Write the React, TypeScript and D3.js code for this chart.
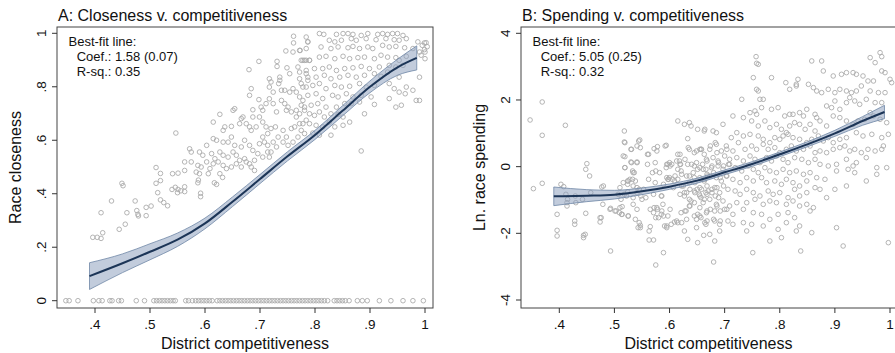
import React, { useEffect, useRef } from "react";
import * as d3 from "d3";

const W = 895;
const H = 353;

const xTicks = [0.4, 0.5, 0.6, 0.7, 0.8, 0.9, 1];
const yTicksA = [0, 0.2, 0.4, 0.6, 0.8, 1];
const yTicksB = [-4, -2, 0, 2, 4];

// districts with zero closeness (bottom row of panel A)
const zeroRowA = [.347, .353, .369, .397, .407, .413, .427, .431, .443, .448, .475, .49, .507, .512, .517, .522, .527, .532,
  .537, .542, .546, .565, .57, .577, .583, .588, .593, .598, .603, .608, .613, .622, .627, .632, .637, .642, .647, .652,
  .657, .662, .667, .672, .677, .682, .687, .692, .697, .702, .707, .712, .717, .722, .727, .732, .737, .742, .747, .752,
  .757, .762, .767, .772, .777, .782, .787, .792, .797, .802, .807, .812, .817, .823, .835, .84, .845, .85, .855, .862,
  .877, .886, .895, .917, .938, .96, .978, .997];

// closeness v. competitiveness
const cloudA = [
  [.411, .329], [.396, .237], [.404, .237], [.411, .233], [.414, .254], [.43, .373], [.449, .439], [.451, .43], [.444, .267],
  [.455, .286], [.458, .329], [.473, .373], [.476, .337], [.478, .323], [.479, .317], [.493, .318], [.493, .349], [.502, .354],
  [.511, .498], [.519, .476], [.511, .439], [.519, .449], [.514, .404], [.519, .377], [.525, .367], [.532, .355], [.54, .416],
  [.546, .424], [.551, .416], [.55, .404], [.556, .411], [.563, .426], [.563, .408], [.588, .451], [.587, .441], [.592, .402],
  [.592, .389], [.617, .441], [.621, .435], [.632, .461],
  [.761, .989], [.761, .964], [.784, .986], [.787, .968], [.747, .934], [.76, .93], [.773, .936], [.778, .899], [.784, .899],
  [.79, .899], [.698, .895], [.731, .895], [.731, .876], [.749, .871], [.769, .874], [.68, .864], [.717, .83], [.72, .818],
  [.736, .836], [.736, .824], [.734, .812], [.754, .849], [.772, .855], [.784, .849], [.684, .793], [.681, .768], [.698, .752],
  [.717, .799], [.724, .78], [.739, .787], [.745, .787], [.754, .78], [.76, .793], [.766, .78], [.775, .812], [.784, .799],
  [.787, .824], [.651, .712], [.654, .718], [.669, .687], [.687, .714], [.687, .687], [.702, .724], [.705, .712], [.711, .737],
  [.717, .755], [.724, .737], [.73, .706], [.739, .749], [.745, .737], [.748, .712], [.751, .724], [.757, .706], [.766, .712],
  [.766, .687], [.775, .731], [.778, .749], [.781, .712], [.627, .697], [.615, .668], [.633, .637], [.636, .65], [.648, .652],
  [.663, .662], [.666, .681], [.675, .662], [.681, .65], [.684, .637], [.693, .65], [.699, .687], [.705, .668], [.711, .65],
  [.714, .625], [.72, .644], [.728, .65], [.733, .612], [.742, .637], [.748, .612], [.757, .644], [.763, .65], [.772, .662],
  [.775, .637], [.784, .675], [.547, .627], [.615, .606], [.621, .6], [.633, .593], [.642, .593], [.648, .612], [.654, .581],
  [.666, .575], [.672, .6], [.681, .581], [.687, .562], [.699, .587], [.705, .612], [.708, .593], [.714, .581], [.72, .556],
  [.724, .593], [.73, .575], [.742, .593], [.751, .581], [.76, .593], [.769, .612], [.572, .568], [.575, .556], [.59, .556],
  [.596, .544], [.603, .581], [.612, .55], [.618, .531], [.627, .556], [.633, .544], [.642, .537], [.651, .556], [.657, .544],
  [.663, .525], [.672, .531], [.681, .512], [.69, .525], [.696, .55], [.705, .537], [.714, .556], [.717, .537], [.563, .519],
  [.575, .519], [.587, .506], [.593, .5], [.603, .519], [.609, .494], [.615, .512], [.624, .519], [.633, .506], [.639, .494],
  [.648, .5], [.657, .512], [.666, .5], [.675, .519], [.684, .5], [.69, .487], [.541, .475], [.551, .477], [.563, .487],
  [.584, .481], [.59, .475], [.606, .475], [.627, .475],
  [.808, .999], [.816, .996], [.839, .996], [.851, .999], [.86, .999], [.869, .996], [.884, .992], [.896, .999], [.914, .996],
  [.923, .999], [.932, .996], [.941, .999], [.95, .999], [.96, .992], [.787, .968], [.826, .974], [.836, .968], [.848, .974],
  [.866, .98], [.875, .974], [.893, .98], [.911, .976], [.929, .98], [.944, .976], [.953, .974], [.966, .98], [.987, .968],
  [.999, .964], [.772, .936], [.784, .943], [.811, .949], [.829, .943], [.842, .949], [.86, .946], [.869, .951], [.881, .943],
  [.896, .949], [.905, .943], [.923, .955], [.935, .949], [.947, .951], [.963, .946], [.978, .943], [.999, .939], [.775, .899],
  [.781, .899], [.79, .899], [.808, .911], [.82, .914], [.836, .905], [.851, .914], [.863, .905], [.878, .909], [.89, .911],
  [.908, .905], [.92, .918], [.932, .911], [.947, .909], [.953, .899], [.966, .914], [.993, .918], [1.0, .905], [.784, .861],
  [.799, .868], [.814, .868], [.826, .874], [.839, .861], [.854, .868], [.869, .871], [.884, .876], [.899, .868], [.917, .874],
  [.935, .88], [.947, .874], [.96, .88], [.772, .83], [.787, .836], [.802, .836], [.817, .843], [.829, .83], [.845, .836],
  [.86, .843], [.875, .836], [.89, .843], [.908, .849], [.92, .839], [.932, .855], [.953, .836], [.99, .836], [.778, .799],
  [.796, .805], [.808, .812], [.82, .793], [.836, .805], [.848, .799], [.863, .802], [.881, .812], [.893, .799], [.908, .805],
  [.935, .812], [.944, .793], [.966, .799], [.978, .787], [.772, .762], [.787, .768], [.802, .774], [.814, .756], [.832, .768],
  [.842, .762], [.857, .774], [.869, .762], [.884, .768], [.902, .762], [.935, .756], [.953, .78], [.964, .774], [.984, .749],
  [.99, .749], [.781, .724], [.793, .731], [.805, .737], [.82, .724], [.839, .724], [.854, .737], [.866, .737], [.881, .743],
  [.908, .734], [.947, .724], [.957, .731], [.772, .699], [.79, .699], [.799, .693], [.808, .706], [.817, .687], [.829, .699],
  [.842, .697], [.851, .687], [.863, .668], [.89, .699], [.778, .662], [.79, .662], [.802, .656], [.814, .65], [.826, .668],
  [.836, .65], [.851, .656], [.781, .625], [.796, .627], [.808, .619], [.829, .619], [.884, .56],
  [1.002, .965], [1.004, .95], [1.0, .93], [.995, .955], [.99, .93],
];

// fitted curve of panel A: x, fit, half width of the 95% band
const fitA = [
  [.39, .092, .05], [.45, .14, .035], [.5, .183, .03], [.55, .228, .025], [.6, .289, .02], [.65, .37, .018],
  [.7, .455, .017], [.75, .54, .017], [.8, .62, .017], [.85, .71, .019], [.9, .8, .022], [.95, .873, .03], [.985, .908, .045],
];

// spending v. competitiveness
const cloudB = [
  [.369, 1.94], [.347, 1.40], [.369, .94], [.411, 1.24], [.353, -.66], [.369, -.50], [.403, -.53], [.408, -.60], [.45, .09],
  [.448, -.08], [.455, -.28], [.457, -.78], [.477, -.61], [.412, -.83], [.415, -.98], [.414, -1.08], [.414, -1.18], [.429, -.88],
  [.43, -1.08], [.442, -.98], [.396, -1.43], [.428, -1.63], [.428, -1.73], [.448, -1.40], [.396, -1.91], [.396, -2.08],
  [.444, -2.06], [.447, -2.03], [.444, -2.13], [.476, -1.53], [.474, -1.66], [.479, -1.13], [.493, -2.53], [.493, -1.25],
  [.503, -1.33], [.509, -1.38], [.514, -1.43], [.514, -1.20], [.525, -1.48], [.541, -1.28], [.512, -.98], [.518, -.83],
  [.524, -.76], [.518, 1.07], [.518, .74], [.519, .30], [.519, -.03], [.53, .52], [.541, .62], [.546, .80], [.53, .14],
  [.541, .14], [.533, -.13], [.536, -.18], [.524, -.43], [.524, -.53], [.533, -.38], [.541, -.63], [.545, -.68], [.541, -.78],
  [.548, -.88], [.557, -.93], [.545, -1.68], [.547, -1.76], [.543, -1.83], [.563, -1.93], [.563, -2.20], [.571, -2.20],
  [.575, -1.53], [.589, -2.58], [.575, -2.95], [.56, .37], [.56, .07], [.569, -.18], [.572, .54], [.578, .60], [.594, .64],
  [.575, -.13], [.582, -.18], [.594, -.03], [.597, .07], [.6, .12], [.597, -.38], [.6, -.33], [.605, -.38], [.609, -.43],
  [.615, -.38], [.615, .37], [.618, .17], [.62, .07], [.615, 1.37], [.627, 1.27], [.636, 1.32], [.639, 1.22], [.651, 1.12],
  [.663, 1.07], [.633, .84], [.636, .52], [.645, .42], [.657, .52], [.663, .37], [.585, -.88], [.572, -1.23], [.578, -1.28],
  [.585, -1.43], [.588, -1.13], [.597, -1.48], [.603, -1.73], [.609, -1.66], [.615, -1.68], [.591, -1.78], [.595, -1.78],
  [.627, -.88], [.636, -.98], [.639, -1.03], [.645, -1.08], [.627, -1.93], [.633, -2.18], [.651, -2.28], [.662, -2.06],
  [.621, -1.38], [.63, -1.33], [.636, -1.18], [.645, -1.48], [.651, -1.43], [.657, -1.53], [.666, -1.73], [.65, -.68],
  [.654, -.83], [.657, -.93], [.663, -.98], [.666, -.78], [.645, .02], [.651, -.08], [.66, .07], [.666, -.08], [.669, -.28],
  [.615, -.08], [.621, -.13], [.633, .07], [.636, -.28], [.645, -.33], [.657, -.38], [.663, -.43], [.622, -.58], [.627, -.78],
  [.636, -.48], [.645, -.73],
  [.519, .72], [.531, .52], [.547, .57], [.544, .77], [.562, .37], [.577, .47], [.592, .62], [.619, .37], [.634, .57],
  [.649, .47], [.655, .52], [.674, .62], [.686, .42], [.683, .72], [.704, .52], [.516, .32], [.519, -.03], [.531, .12],
  [.541, .12], [.534, -.18], [.574, .12], [.595, .07], [.601, .02], [.604, .07], [.613, .17], [.619, .07], [.628, .22],
  [.64, .07], [.649, .12], [.655, -.03], [.668, .17], [.677, .02], [.689, .12], [.698, .02], [.707, .07], [.516, -.48],
  [.525, -.43], [.528, -.38], [.538, -.43], [.562, -.38], [.574, -.48], [.595, -.33], [.598, -.38], [.61, -.28], [.622, -.23],
  [.631, -.28], [.643, -.18], [.655, -.33], [.668, -.23], [.68, -.18], [.692, -.33], [.704, -.28], [.48, -.58], [.51, -.63],
  [.534, -.58], [.553, -.68], [.589, -.53], [.607, -.63], [.625, -.58], [.637, -.68], [.646, -.48], [.655, -.63], [.668, -.58],
  [.677, -.68], [.686, -.63], [.698, -.58], [.507, -.83], [.522, -.88], [.534, -.93], [.55, -.98], [.571, -.83], [.586, -.88],
  [.619, -.83], [.631, -.78], [.646, -.78], [.655, -.88], [.668, -.83], [.677, -.78], [.683, -.88], [.689, -.93], [.492, -1.28],
  [.501, -1.33], [.51, -1.23], [.513, -1.43], [.534, -1.13], [.565, -1.28], [.577, -1.23], [.571, -1.38], [.586, -1.33],
  [.601, -1.28], [.628, -1.33], [.637, -1.18], [.655, -1.23], [.668, -1.33], [.674, -1.28], [.686, -1.18], [.692, -1.33],
  [.704, -1.28], [.474, -1.53], [.525, -1.48], [.538, -1.58], [.58, -1.53], [.589, -1.48], [.613, -1.63], [.622, -1.68],
  [.631, -1.58], [.649, -1.58], [.655, -1.48], [.668, -1.63], [.68, -1.58], [.692, -1.63], [.547, -1.83], [.565, -1.80],
  [.595, -1.83], [.649, -1.83],
  [.68, -2.86], [.751, -2.58], [.838, -2.53],
  [.757, 3.30], [.758, 3.10], [.761, 3.07], [.858, 3.17], [.876, 3.17], [.964, 3.27], [.982, 3.42], [.985, 3.30], [.973, 3.12],
  [.752, 2.67], [.785, 2.67], [.811, 2.52], [.833, 2.62], [.83, 2.47], [.852, 2.47], [.879, 2.87], [.897, 2.72], [.912, 2.77],
  [.921, 2.82], [.933, 2.82], [.939, 2.77], [.951, 2.72], [.96, 2.57], [.97, 2.57], [.985, 2.87], [.991, 2.82], [1.0, 2.62],
  [.731, 2.02], [.758, 2.32], [.761, 2.27], [.764, 2.02], [.77, 2.02], [.818, 2.32], [.83, 2.42], [.861, 2.37], [.867, 2.27],
  [.876, 2.22], [.888, 2.32], [.9, 2.22], [.909, 2.32], [.921, 2.27], [.93, 2.22], [.939, 2.27], [.948, 2.42], [.964, 2.27],
  [.979, 2.22], [.991, 2.22], [1.003, 2.52], [.746, 1.62], [.755, 1.67], [.758, 1.57], [.767, 1.77], [.785, 1.72], [.797, 1.77],
  [.809, 1.52], [.818, 1.57], [.824, 1.57], [.836, 1.62], [.843, 1.52], [.849, 1.72], [.864, 1.57], [.867, 1.47], [.885, 1.82],
  [.894, 1.77], [.9, 1.97], [.909, 1.72], [.921, 1.92], [.927, 2.07], [.936, 1.97], [.945, 1.87], [.957, 2.02], [.973, 1.92],
  [.985, 1.92], [.715, 1.52], [.734, 1.47], [.749, 1.37], [.761, 1.22], [.773, 1.37], [.782, 1.17], [.794, 1.27], [.803, 1.12],
  [.812, 1.02], [.818, 1.22], [.827, 1.32], [.836, 1.27], [.846, 1.12], [.855, 1.27], [.864, 1.07], [.873, 1.37], [.885, 1.22],
  [.897, 1.52], [.909, 1.47], [.921, 1.37], [.933, 1.27], [.942, 1.37], [.954, 1.42], [.964, 1.62], [.97, 1.52], [.982, 1.42],
  [.994, 1.32], [.664, 1.12], [.679, 1.07], [.685, 1.02], [.697, 1.27], [.712, .87], [.722, 1.02], [.734, .92], [.746, .97],
  [.761, .92], [.77, .82], [.782, .72], [.791, .87], [.8, .82], [.806, .92], [.815, .97], [.824, .87], [.836, .82], [.849, .72],
  [.858, .82], [.87, .92], [.879, .77], [.888, .87], [.897, .72], [.909, .82], [.921, .87], [.939, 1.02], [.951, .92],
  [.967, .97], [.985, .87], [.988, .62], [.997, .97], [.658, .52], [.673, .52], [.685, .67], [.694, .47], [.703, .62],
  [.715, .47], [.725, .72], [.737, .52], [.749, .62], [.758, .52], [.77, .67], [.779, .52], [.791, .57], [.8, .42], [.812, .52],
  [.821, .62], [.83, .47], [.843, .52], [.855, .62], [.864, .42], [.873, .47], [.885, .42], [.897, .52], [.909, .57], [.918, .62],
  [.927, .47], [.936, .52], [.948, .42], [.96, .52], [.973, .47], [.985, .52], [.667, .22], [.679, .27], [.688, .17], [.7, .32],
  [.709, .22], [.722, .27], [.734, .17], [.746, .32], [.755, .22], [.764, .12], [.776, .27], [.785, .17], [.794, .32], [.806, .22],
  [.815, .12], [.827, .27], [.84, .22], [.852, .12], [.864, .22], [.873, .07], [.888, .02], [.903, .07], [.921, .22], [.933, .02],
  [.939, .12], [.957, .27], [.976, -.03], [.994, -.03], [.661, -.08], [.676, -.03], [.688, .02], [.697, -.08], [.709, .07],
  [.719, -.03], [.731, -.13], [.743, .02], [.752, -.08], [.761, -.18], [.773, -.03], [.782, -.13], [.794, -.18], [.806, -.08],
  [.818, -.18], [.83, -.13], [.843, -.23], [.855, -.18], [.867, -.33], [.882, -.38], [.903, -.13], [.924, -.08], [.936, -.18],
  [.976, -.23], [.664, -.38], [.673, -.28], [.685, -.33], [.694, -.43], [.703, -.28], [.715, -.38], [.728, -.48], [.74, -.33],
  [.752, -.43], [.767, -.33], [.776, -.48], [.791, -.43], [.803, -.53], [.812, -.38], [.824, -.48], [.836, -.58], [.849, -.43],
  [.864, -.63], [.873, -.68], [.885, -.93], [.9, -.68], [.921, -.58], [.957, -.43], [.658, -.68], [.67, -.73], [.682, -.63],
  [.691, -.78], [.706, -.68], [.719, -.73], [.728, -.83], [.74, -.68], [.752, -.78], [.764, -.88], [.779, -.73], [.788, -.83],
  [.8, -.78], [.815, -.93], [.827, -.68], [.836, -.88], [.849, -.78], [.661, -1.08], [.673, -.98], [.685, -1.13], [.697, -1.03],
  [.709, -1.18], [.722, -1.08], [.74, -1.08], [.755, -.98], [.77, -1.13], [.782, -1.03], [.794, -1.08], [.812, -1.13],
  [.824, -1.03], [.836, -1.18], [.849, -1.13], [.861, -1.23], [.667, -1.38], [.682, -1.33], [.7, -1.28], [.715, -1.43],
  [.734, -1.28], [.752, -1.38], [.767, -1.43], [.782, -1.58], [.797, -1.43], [.815, -1.38], [.827, -1.53], [.855, -1.33],
  [.664, -1.68], [.682, -1.63], [.691, -1.73], [.706, -1.63], [.715, -1.73], [.734, -1.68], [.749, -1.73], [.77, -1.78],
  [.812, -1.68], [.836, -1.78], [.903, -1.83], [.673, -2.03], [.691, -1.93], [.74, -1.93], [.782, -2.23], [.797, -1.88],
  [.803, -2.13], [.83, -1.93], [.858, -1.98], [.682, -2.23], [.915, -2.38], [.997, -2.28],
];

const fitB = [
  [.39, -.89, .28], [.45, -.87, .18], [.5, -.84, .13], [.55, -.74, .1], [.6, -.6, .08], [.65, -.42, .075], [.7, -.17, .07],
  [.75, .08, .07], [.8, .37, .07], [.85, .67, .075], [.9, 1.0, .09], [.95, 1.37, .13], [.99, 1.64, .2],
];

const fmt = (d) => (d === 0 || Math.abs(d) >= 1 ? String(d) : String(d).replace("0.", "."));

export default function App() {
  const svgRef = useRef(null);

  useEffect(() => {
    const svg = d3.select(svgRef.current);
    svg.selectAll("*").remove();
    svg.append("rect").attr("width", W).attr("height", H).attr("fill", "#ffffff");

    const top = 27, bottom = 308;

    const panels = [
      {
        title: "A: Closeness v. competitiveness", ytitle: "Race closeness", frame: [57, 433],
        xRange: [95, 425], yDomain: [0, 1], yRange: [300.7, 33.3], yTicks: yTicksA,
        points: cloudA.concat(zeroRowA.map(v => [v, 0])), fit: fitA,
        stats: ["Coef.: 1.58 (0.07)", "R-sq.: 0.35"], ytitleX: 15
      },
      {
        title: "B: Spending v. competitiveness", ytitle: "Ln. race spending", frame: [521, 896],
        xRange: [559.3, 890], yDomain: [-4, 4], yRange: [300, 33.3], yTicks: yTicksB,
        points: cloudB, fit: fitB,
        stats: ["Coef.: 5.05 (0.25)", "R-sq.: 0.32"], ytitleX: 479
      }
    ];

    panels.forEach(p => {
      const x = d3.scaleLinear().domain([0.4, 1]).range(p.xRange);
      const y = d3.scaleLinear().domain(p.yDomain).range(p.yRange);
      const g = svg.append("g");
      const [left, right] = p.frame;

      // scatter
      g.append("g").selectAll("circle").data(p.points).join("circle")
        .attr("cx", d => x(d[0])).attr("cy", d => y(d[1])).attr("r", 2.3)
        .attr("fill", "none").attr("stroke", "#acacac").attr("stroke-width", 0.9);

      // confidence band + fit line
      const band = d3.area()
        .x(d => x(d[0])).y0(d => y(d[1] - d[2])).y1(d => y(d[1] + d[2]))
        .curve(d3.curveMonotoneX);
      g.append("path").datum(p.fit).attr("d", band)
        .attr("fill", "#8fa3bf").attr("fill-opacity", 0.55)
        .attr("stroke", "#6f86a6").attr("stroke-width", 0.8);
      const line = d3.line().x(d => x(d[0])).y(d => y(d[1])).curve(d3.curveMonotoneX);
      g.append("path").datum(p.fit).attr("d", line)
        .attr("fill", "none").attr("stroke", "#1c3557").attr("stroke-width", 2);

      // frame
      g.append("rect").attr("x", left).attr("y", top).attr("width", right - left).attr("height", bottom - top)
        .attr("fill", "none").attr("stroke", "#444").attr("stroke-width", 1);

      // x axis
      g.selectAll(".xt").data(xTicks).join("line").attr("class", "xt")
        .attr("x1", d => x(d)).attr("x2", d => x(d)).attr("y1", bottom).attr("y2", bottom + 5)
        .attr("stroke", "#333");
      g.selectAll(".xl").data(xTicks).join("text").attr("class", "xl")
        .attr("x", d => x(d)).attr("y", 328.5).attr("text-anchor", "middle")
        .style("font-size", "13.5px").attr("fill", "#111").text(fmt);
      g.append("text").attr("x", (left + right) / 2).attr("y", 348.5).attr("text-anchor", "middle")
        .style("font-size", "16px").attr("fill", "#111").text("District competitiveness");

      // y axis
      g.selectAll(".yt").data(p.yTicks).join("line").attr("class", "yt")
        .attr("x1", left - 5).attr("x2", left).attr("y1", d => y(d)).attr("y2", d => y(d))
        .attr("stroke", "#333");
      g.selectAll(".yl").data(p.yTicks).join("text").attr("class", "yl")
        .attr("transform", d => `translate(${left - 16},${y(d)}) rotate(-90)`)
        .attr("text-anchor", "middle").attr("dy", "0.36em")
        .style("font-size", "13.5px").attr("fill", "#111").text(fmt);
      g.append("text")
        .attr("transform", `translate(${p.ytitleX},${(top + bottom) / 2}) rotate(-90)`)
        .attr("text-anchor", "middle").attr("dy", "0.36em")
        .style("font-size", "16px").attr("fill", "#111").text(p.ytitle);

      // title
      g.append("text").attr("x", left + 1).attr("y", 21)
        .style("font-size", "16px").attr("fill", "#111").text(p.title);

      // best-fit annotation
      g.append("text").attr("x", left + 11.5).attr("y", 46)
        .style("font-size", "13px").attr("fill", "#111").text("Best-fit line:");
      p.stats.forEach((s, i) => {
        g.append("text").attr("x", left + 19.7).attr("y", 61 + i * 15)
          .style("font-size", "13px").attr("fill", "#111").text(s);
      });
    });
  }, []);

  return (
    <svg ref={svgRef} width={W} height={H}
      style={{ position: "absolute", left: 0, top: 0, fontFamily: "'Liberation Sans', Arial, Helvetica, sans-serif" }} />
  );
}
